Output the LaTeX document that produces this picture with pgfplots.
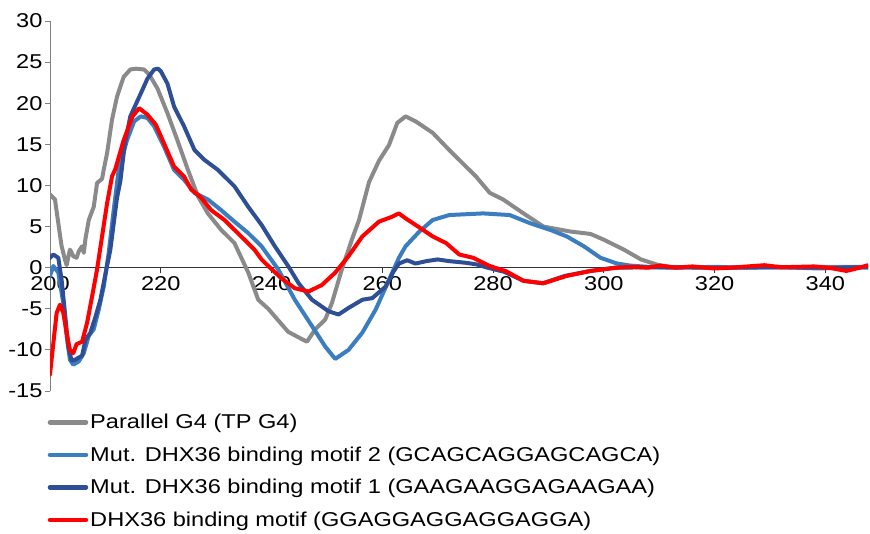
\documentclass[border=0pt]{standalone}
\usepackage{fontspec}
\setmainfont{Liberation Sans}[FakeStretch=1.18]
\usepackage{pgfplots}
\pgfplotsset{compat=1.18}
\definecolor{cgray}{HTML}{8A8A8A}
\definecolor{clblue}{HTML}{3A7DC0}
\definecolor{cdblue}{HTML}{2E4E95}
\definecolor{cred}{HTML}{FF0000}
\begin{document}
\begin{tikzpicture}[x=1pt,y=1pt]
\path[use as bounding box] (0,0) rectangle (870,533);
\begin{axis}[
  at={(50pt,142pt)}, anchor=south west,
  scale only axis, width=818pt, height=370pt,
  xmin=200, xmax=347.7, ymin=-15, ymax=30,
  axis x line=middle, axis y line=left,
  axis line style={-},
  x axis line style={draw=black!80, line width=0.8pt},
  y axis line style={draw=gray, line width=0.8pt},
  hide obscured x ticks=false, hide obscured y ticks=false,
  xtick={200,220,...,340}, ytick={-15,-10,...,30},
  tick align=outside, major tick length=5pt,
  x tick style={draw=black!80, line width=0.8pt},
  y tick style={draw=gray, line width=0.8pt},
  /pgf/number format/assume math mode=true,
  ticklabel style={font=\fontsize{20}{24}\selectfont},
  xticklabel style={anchor=north, yshift=0pt},
  yticklabel style={anchor=east, xshift=1pt},
  every axis plot/.append style={line width=4pt, line join=round, line cap=round},
  legend style={draw=none, fill=none, at={(-0.003,-0.057)}, anchor=north west,
    font=\fontsize{20}{24}\selectfont, row sep=12.5pt, inner sep=0pt},
  legend cell align=left,
  legend image code/.code={\draw[#1, line width=4.5pt] (0pt,0pt) -- (36pt,0pt);},
]
\addplot[cgray] coordinates {
(200,8.9)(200.9,8.3)(201.5,5.4)(202.1,2.6)(202.7,1.0)(203.0,0.3)(203.6,2.2)(204.2,1.4)(204.8,1.2)(205.2,2.0)(205.8,2.6)(206.1,1.8)(206.4,3.5)(207.0,5.8)(207.9,7.4)(208.5,10.3)(209.4,10.8)(209.7,11.9)(210.3,13.9)(211.2,18.0)(212.1,20.8)(213.3,23.2)(214.5,24.1)(215.5,24.2)(217.0,24.1)(217.9,23.5)(219.4,21.8)(221.2,18.8)(223.0,15.5)(224.9,11.9)(226.7,8.7)(228.5,6.6)(230.9,4.6)(233.3,3.0)(235.8,-0.6)(237.6,-3.9)(239.4,-5.0)(241.2,-6.4)(243.0,-7.8)(245.5,-8.7)(246.4,-9.0)(247.9,-7.5)(249.7,-6.3)(250.9,-4.3)(252.7,-0.2)(254.5,3.4)(255.8,5.8)(257.6,10.4)(259.4,13.0)(261.2,14.9)(262.7,17.6)(264.2,18.4)(266.0,17.8)(269.1,16.4)(272.1,14.3)(275.1,12.3)(276.9,11.1)(279.4,9.1)(281.8,8.3)(285.5,6.6)(289.1,5.0)(293.9,4.4)(297.6,4.1)(300.0,3.4)(301.2,3.0)(303.6,2.2)(306.7,1.0)(309.7,0.35)(312,0.1)(316,0.05)(320,0.1)(325,0.0)(330,0.1)(335,0.05)(340,0.1)(347.7,0.1)
};
\addlegendentry{Parallel G4 (TP G4)}
\addplot[clblue] coordinates {
(200,-1.0)(200.6,0.2)(201.5,-0.6)(202.4,-4.3)(203.0,-8.3)(203.6,-11.2)(204.2,-11.8)(205.2,-11.4)(206.1,-10.4)(207.0,-8.3)(207.9,-7.5)(208.8,-5.1)(209.7,-2.3)(210.6,1.8)(211.5,7.0)(212.4,11.9)(213.9,15.5)(215.2,17.8)(216.4,18.4)(217.6,18.2)(218.8,17.2)(220.6,14.7)(222.4,11.9)(224.2,10.7)(226.1,9.1)(228.5,8.3)(230.9,7.0)(233.3,5.6)(235.8,4.2)(238.2,2.6)(241.2,-0.2)(244.2,-3.9)(247.3,-7.1)(249.7,-9.6)(251.5,-11.1)(253.9,-10.0)(256.4,-7.9)(258.8,-5.1)(261.2,-1.5)(263.0,1.2)(264.2,2.6)(266.7,4.4)(269.1,5.8)(272.1,6.4)(278.2,6.6)(283.0,6.4)(286.7,5.4)(290.3,4.6)(293.3,3.8)(296.4,2.6)(299.4,1.2)(302.4,0.5)(304.8,0.25)(308,0.1)(312,0.0)(318,0.05)(325,0.0)(332,0.05)(339,-0.1)(343,0.0)(347.7,0.05)
};
\addlegendentry{Mut. DHX36 binding motif 2 (GCAGCAGGAGCAGCA)}
\addplot[cdblue] coordinates {
(200,1.2)(200.6,1.6)(201.5,1.2)(202.1,-1.5)(202.7,-5.5)(203.3,-9.6)(203.9,-11.3)(204.5,-11.2)(205.8,-10.7)(206.4,-8.8)(207.3,-7.9)(208.2,-6.0)(209.1,-3.9)(210.3,0.2)(210.9,2.2)(212.1,8.5)(212.7,10.5)(213.5,15.0)(214.5,18.4)(216.4,21.2)(217.6,23.0)(218.8,24.1)(219.5,24.2)(220.0,23.9)(221.2,22.4)(222.4,19.6)(224.2,17.2)(226.1,14.3)(227.9,13.1)(230.3,11.9)(233.3,9.9)(235.8,7.4)(238.2,5.2)(240.6,2.6)(242.0,1.2)(243.0,0.2)(244.9,-1.9)(247.3,-3.9)(250.3,-5.3)(252.1,-5.7)(253.9,-4.9)(256.4,-3.9)(258.2,-3.7)(260.6,-2.3)(262.0,-0.5)(263.0,0.5)(264.5,0.9)(266,0.5)(268,0.8)(270,1.0)(272,0.8)(275,0.6)(277,0.4)(279,0.0)(282,-0.5)(285.5,-1.6)(289,-1.9)(293,-1.0)(297.6,-0.4)(302,0.0)(310,0.05)(320,0.0)(330,0.05)(340,0.0)(347.7,0.05)
};
\addlegendentry{Mut. DHX36 binding motif 1 (GAAGAAGGAGAAGAA)}
\addplot[cred] coordinates {
(200,-13.0)(200.6,-9.2)(201.2,-5.5)(201.8,-4.5)(202.4,-5.5)(203.0,-7.9)(203.6,-10.0)(204.2,-10.4)(204.8,-9.3)(205.8,-9.0)(206.7,-6.7)(207.6,-3.5)(208.5,-0.2)(209.4,3.8)(210.3,7.8)(211.2,11.1)(211.8,12.0)(213.3,15.5)(214.9,18.4)(216.1,19.4)(217.6,18.6)(219.1,17.4)(220.6,15.1)(222.4,12.3)(224.2,11.1)(225.5,9.5)(227.3,8.5)(229.1,7.0)(231.5,5.8)(233.9,4.2)(236.9,2.2)(238.2,1.0)(239.4,0.2)(241.8,-1.3)(244.2,-2.5)(246.7,-2.9)(249.1,-2.1)(251.5,-0.6)(253.9,1.4)(256.4,3.8)(259.4,5.6)(261.8,6.2)(263.0,6.6)(264.2,6.0)(266.0,5.2)(269.1,3.8)(271.5,3.0)(273.9,1.6)(276.4,1.2)(279.4,0.2)(282.4,-0.45)(285.5,-1.6)(289.1,-1.9)(293.3,-1.0)(297.6,-0.4)(302.4,0.0)(305,0.1)(308,0.0)(310,0.25)(313,0.0)(316,0.15)(320,-0.1)(323,0.0)(326,0.15)(329,0.3)(332,0.05)(335,0.1)(338,0.15)(341,-0.05)(343.8,-0.4)(346.2,0.0)(347.7,0.3)
};
\addlegendentry{DHX36 binding motif (GGAGGAGGAGGAGGA)}
\end{axis}
\end{tikzpicture}
\end{document}
